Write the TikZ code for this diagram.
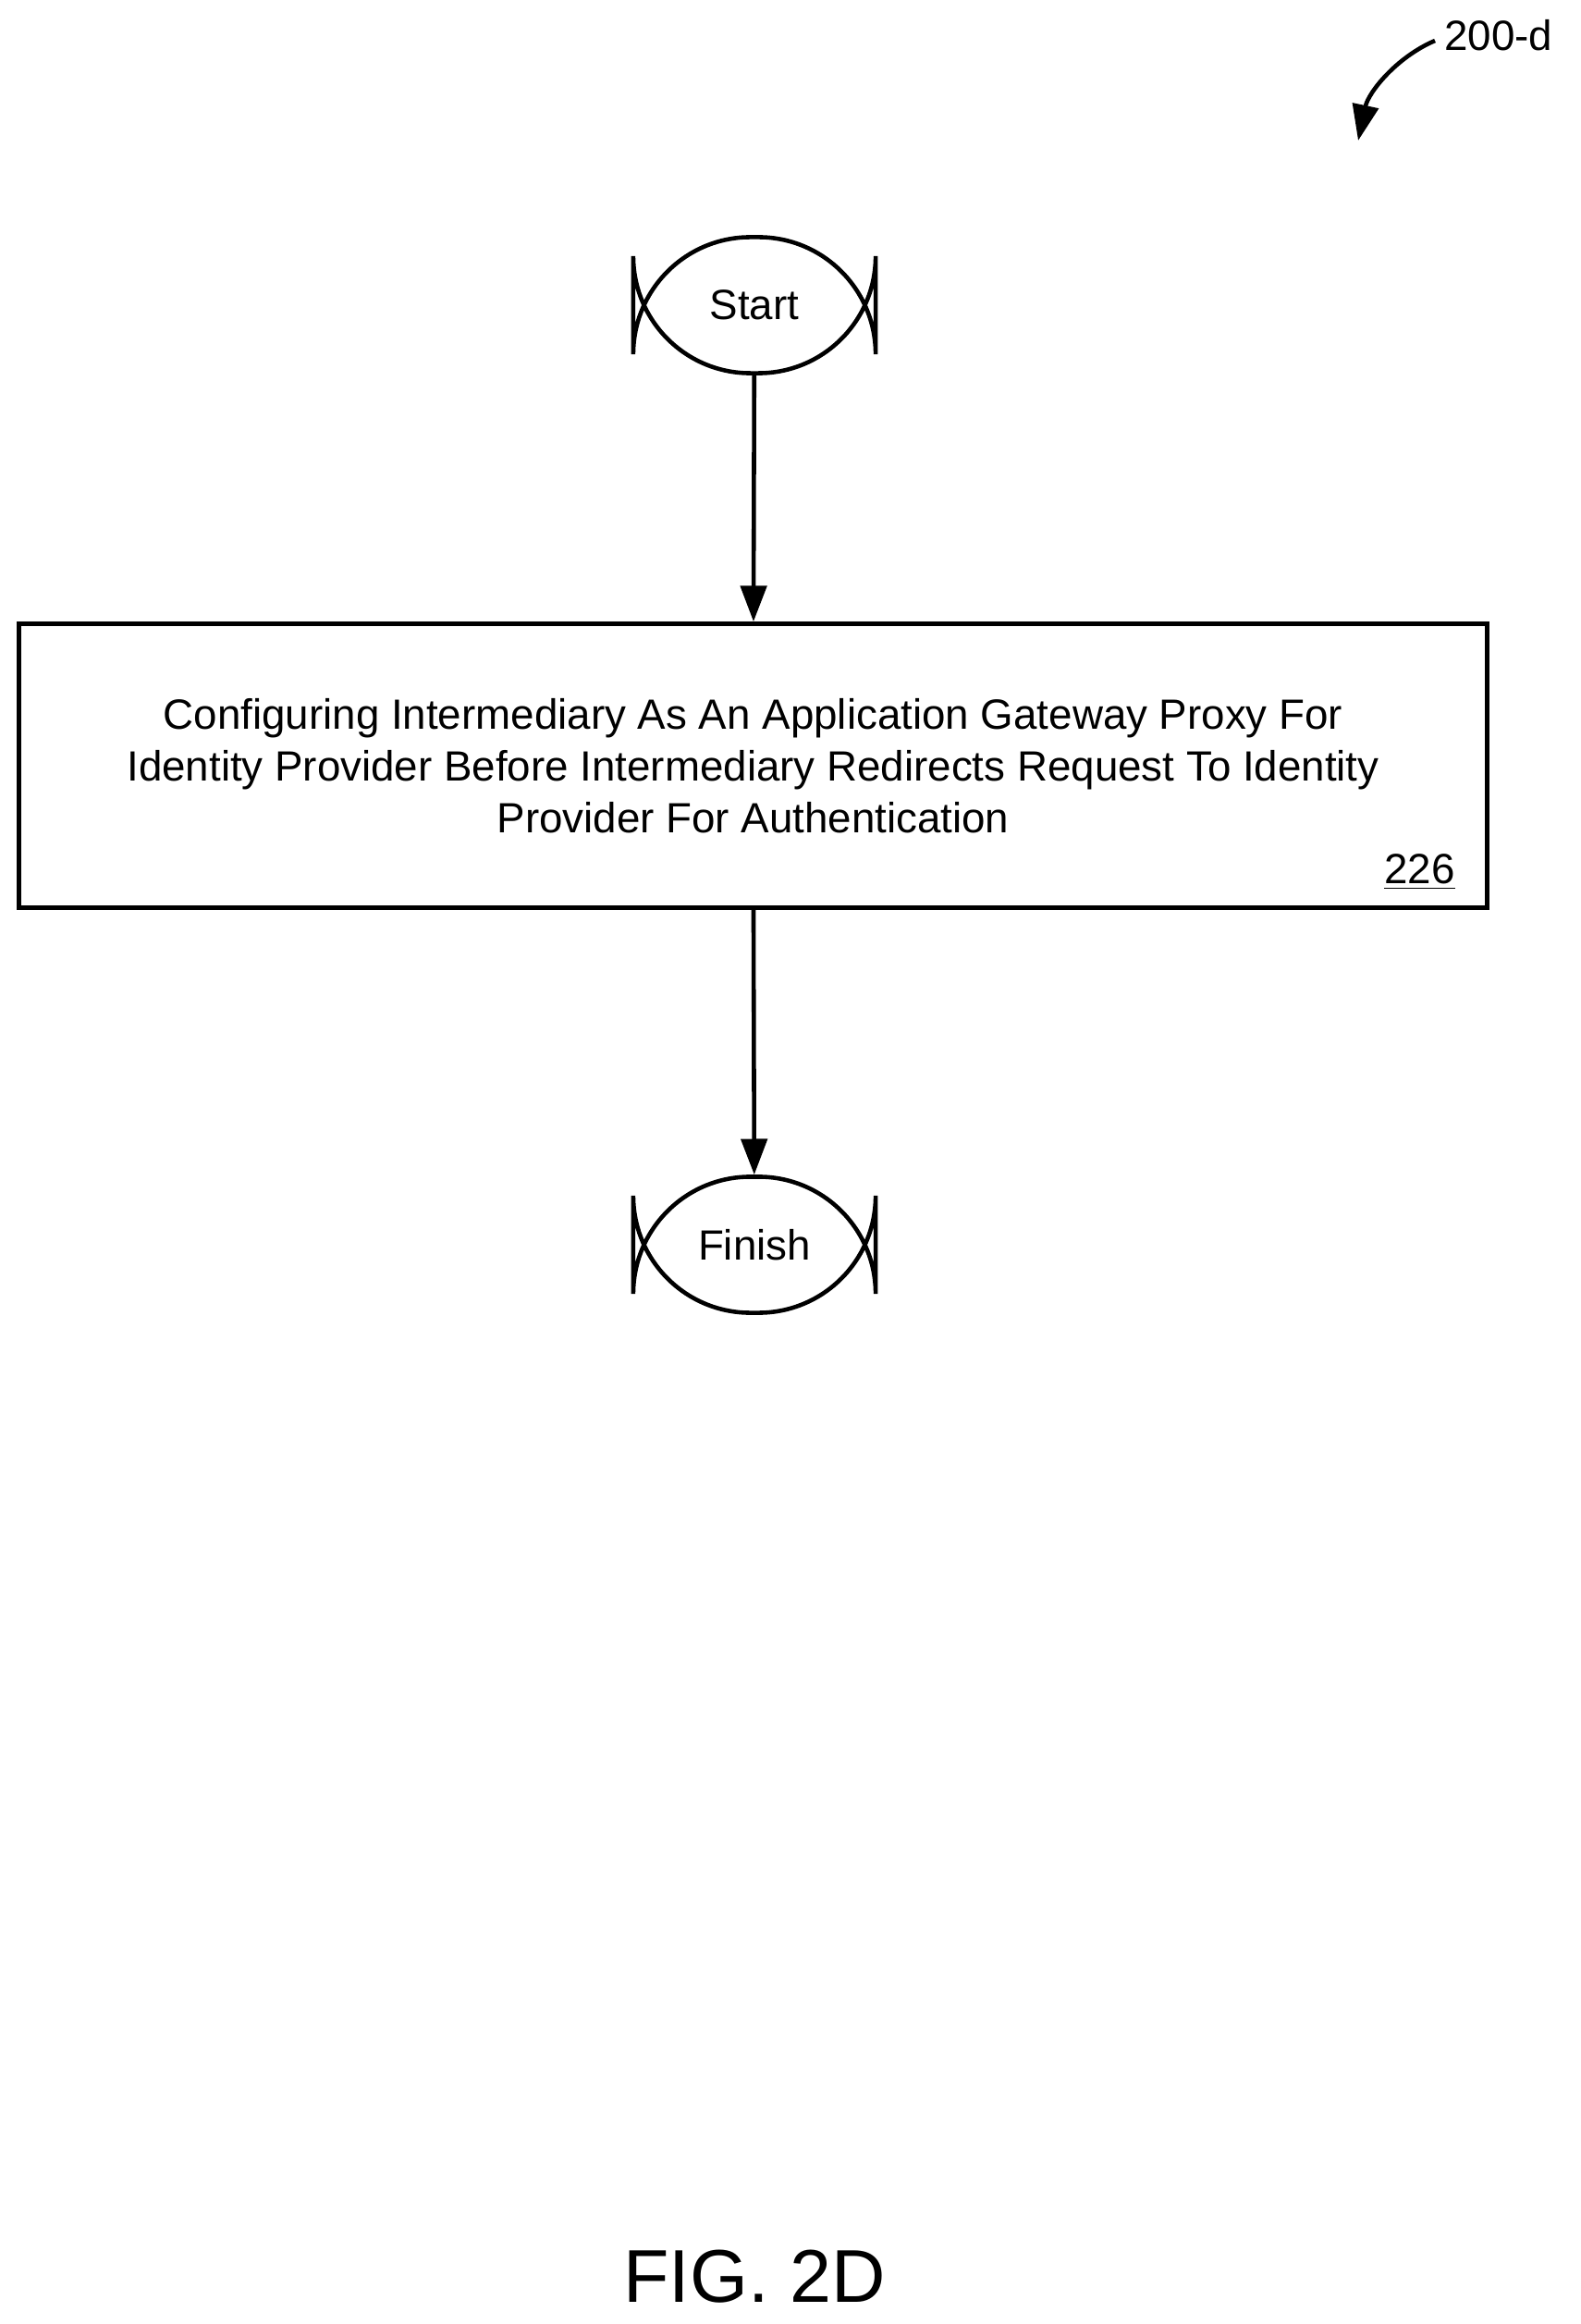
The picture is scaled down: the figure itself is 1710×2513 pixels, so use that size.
\documentclass[tikz,border=0pt]{standalone}
\usepackage{fontspec}
\setmainfont{Liberation Sans}
\usetikzlibrary{arrows.meta}
\begin{document}
\begin{tikzpicture}[x=0.01cm,y=-0.01cm,line width=1.3pt,
  term/.style={draw,rounded corners=36pt,minimum width=262\pgflinewidth*0+7.4cm*0+2.62cm,minimum height=1.47cm,font=\fontsize{13}{16}\selectfont},
  proc/.style={draw,minimum width=15.87cm,minimum height=3.07cm,align=center,font=\fontsize{13}{16}\selectfont},
  arr/.style={-{Triangle[length=11pt,width=8pt]}}]
\useasboundingbox (0,0) rectangle (1710,2513);
\node[term] (start) at (816,330) {Start};
\node[proc] (box) at (814.5,828) {Configuring Intermediary As An Application Gateway Proxy For\\Identity Provider Before Intermediary Redirects Request To Identity\\Provider For Authentication};
\node[anchor=south east,font=\fontsize{13}{16}\selectfont,inner sep=0pt] (num) at (1576,965) {\underline{226}};
\node[term] (finish) at (816,1346) {Finish};
\draw[arr] (start) -- (box);
\draw[arr] (box) -- (finish);
\node[anchor=west,font=\fontsize{13}{16}\selectfont,inner sep=0pt] (lbl) at (1560,38) {200-d};
\draw[arr] (lbl.west) ++(-8,6) coordinate (c0) .. controls (1510,62) and (1480,100) .. (1469,152);
\node[font=\fontsize{23}{28}\selectfont] (fig) at (816,2462) {FIG. 2D};
\end{tikzpicture}
\end{document}
